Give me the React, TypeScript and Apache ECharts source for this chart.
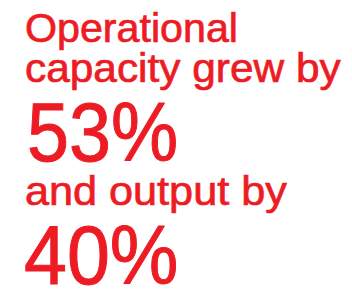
import { useEffect, useRef } from "react";
import * as echarts from "echarts";

const introLines = ["Operational", "capacity grew by"];
const middleLines = ["and output by"];
const metricValues = [53, 40];
const metricSuffix = "%";

const RED = "#ed1c24";
const FONT = "Liberation Sans";

export default function App() {
  const ref = useRef<HTMLDivElement>(null);
  useEffect(() => {
    const chart = echarts.init(ref.current!, null, { renderer: "svg" });
    const small = 40;
    const big = 83;
    const txt = (text: string, x: number, baseline: number, size: number, sx: number, sw: number) => ({
      type: "text",
      x,
      y: baseline - size * 0.358,
      scaleX: sx,
      style: {
        text,
        fill: RED,
        stroke: RED,
        lineWidth: sw,
        fontFamily: FONT,
        fontSize: size,
        lineHeight: Math.round(size * 0.8),
        verticalAlign: "middle",
        align: "left",
      },
    });
    chart.setOption({
      animation: false,
      backgroundColor: "#ffffff",
      graphic: [
        txt(introLines[0], 25, 43, small, 1.03, 0.7),
        txt(introLines[1], 25, 83, small, 1.06, 0.7),
        txt(`${metricValues[0]}${metricSuffix}`, 27, 162, big, 0.91, 1),
        txt(middleLines[0], 25, 205, small, 1.08, 0.7),
        txt(`${metricValues[1]}${metricSuffix}`, 24, 285, big, 0.93, 1),
      ],
    });
    return () => chart.dispose();
  }, []);
  return (
    <div
      ref={ref}
      style={{ position: "fixed", left: 0, top: 0, width: 352, height: 289 }}
    />
  );
}
